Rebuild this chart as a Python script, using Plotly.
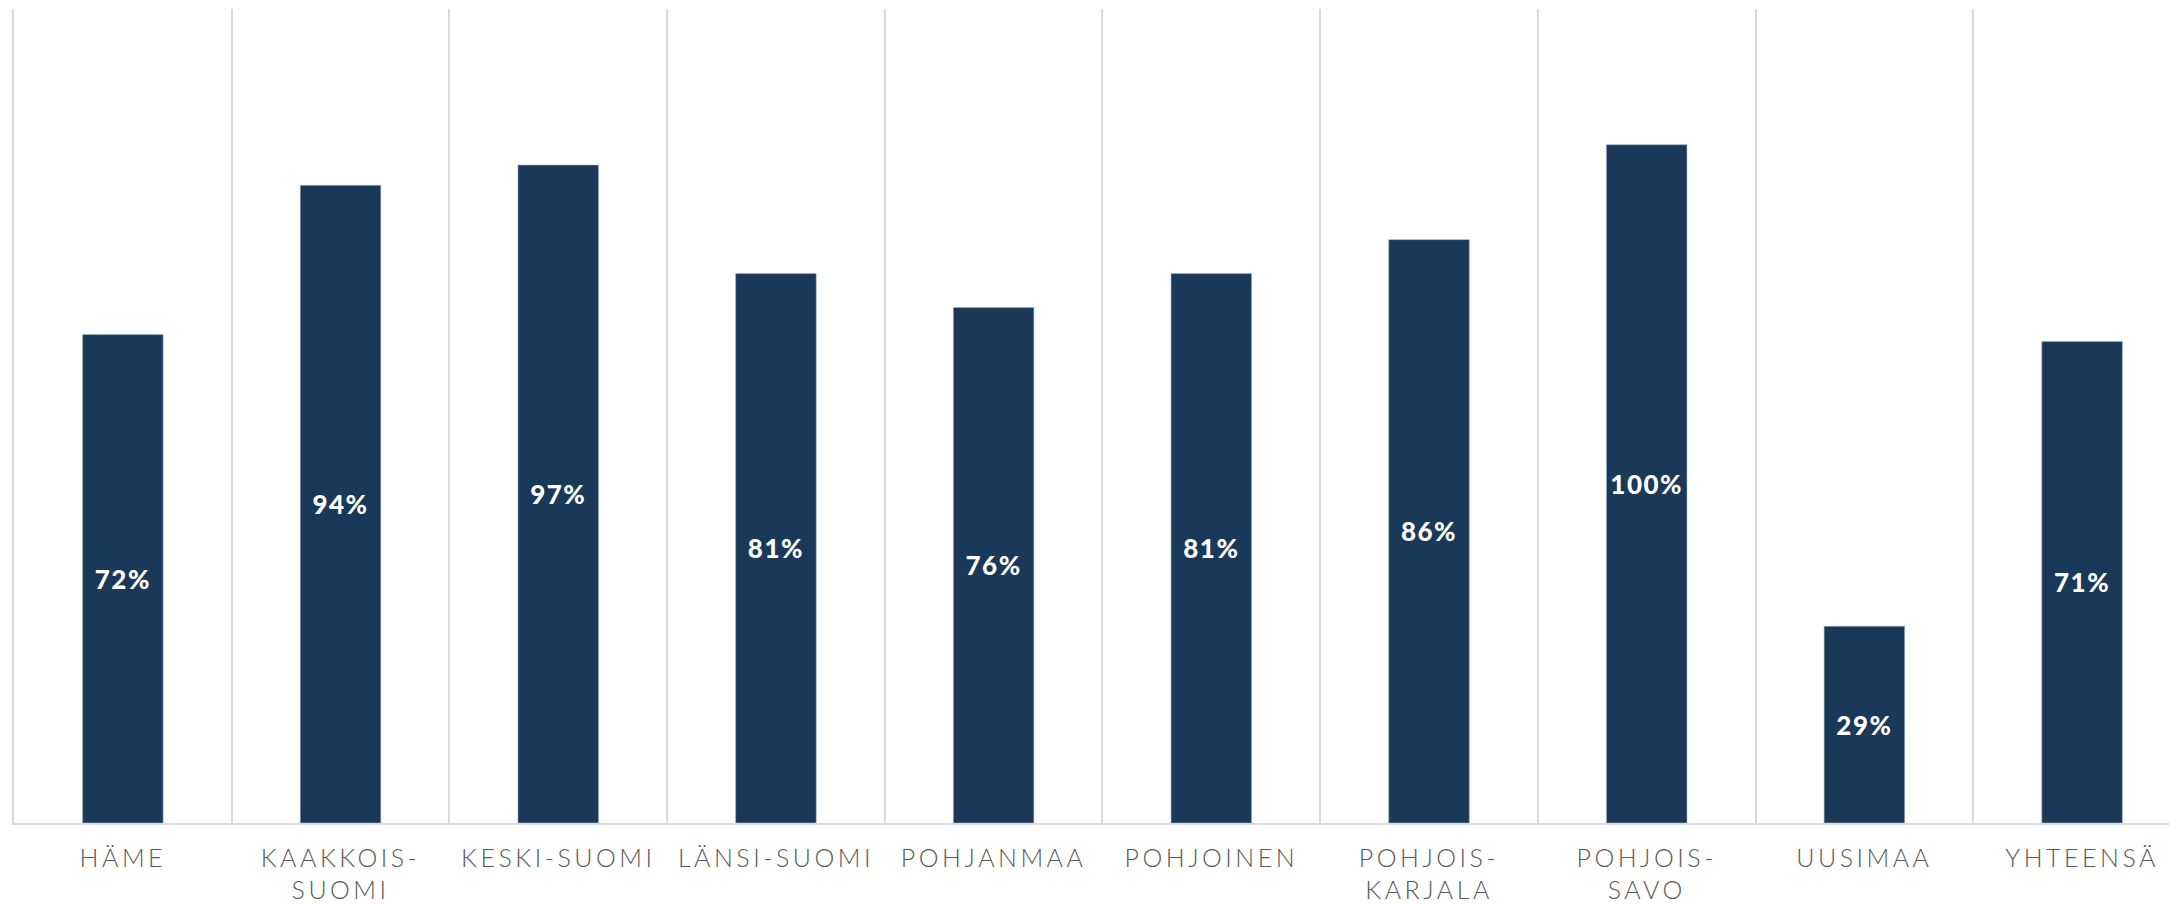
import plotly.graph_objects as go

# regions and share (fraction)
regions = [
    "HÄME", "KAAKKOIS-<br>SUOMI", "KESKI-SUOMI", "LÄNSI-SUOMI", "POHJANMAA",
    "POHJOINEN", "POHJOIS-<br>KARJALA", "POHJOIS-<br>SAVO", "UUSIMAA", "YHTEENSÄ",
]
shares = [0.72, 0.94, 0.97, 0.81, 0.76, 0.81, 0.86, 1.00, 0.29, 0.71]

BAR = "#1a3858"
GRID = "#d9d9d9"

# wide tracking like the original labels
tick_text = ['<span style="letter-spacing:3.5px">%s</span>' % r.replace("<br>", '</span><br><span style="letter-spacing:3.5px">')
             for r in regions]

fig = go.Figure()
fig.add_trace(go.Bar(
    x=regions, y=shares,
    marker=dict(color=BAR, line=dict(color="#9fb0c4", width=0.6)),
    texttemplate='<span style="letter-spacing:1.5px">%{y:.0%}</span>',
    textposition="inside",
    insidetextanchor="middle",
    constraintext="none",
    textfont=dict(family="Lato", size=26, color="white", weight=900),
    hoverinfo="skip",
))

# page body has an 8px margin, so the figure is drawn a little smaller
fig.update_layout(
    width=2169, height=896,
    margin=dict(l=6, r=0, t=1, b=79),
    paper_bgcolor="white",
    plot_bgcolor="white",
    bargap=0.63,
    showlegend=False,
)
fig.update_xaxes(
    type="category",
    range=[-0.5, 9.436],
    tickson="boundaries",
    tickvals=regions, ticktext=tick_text,
    showgrid=True, gridcolor=GRID, gridwidth=1.5,
    showline=True, linecolor=GRID, linewidth=1.5,
    ticks="", ticklen=0,
    ticklabelstandoff=12,
    tickfont=dict(family="Lato", size=25, color="#595959", weight=300),
    tickangle=0,
)
fig.update_yaxes(
    range=[0, 1.2],
    showgrid=False, zeroline=False, showticklabels=False, ticks="",
    showline=True, linecolor=GRID, linewidth=1.5,
)

fig.write_html("out.html")
